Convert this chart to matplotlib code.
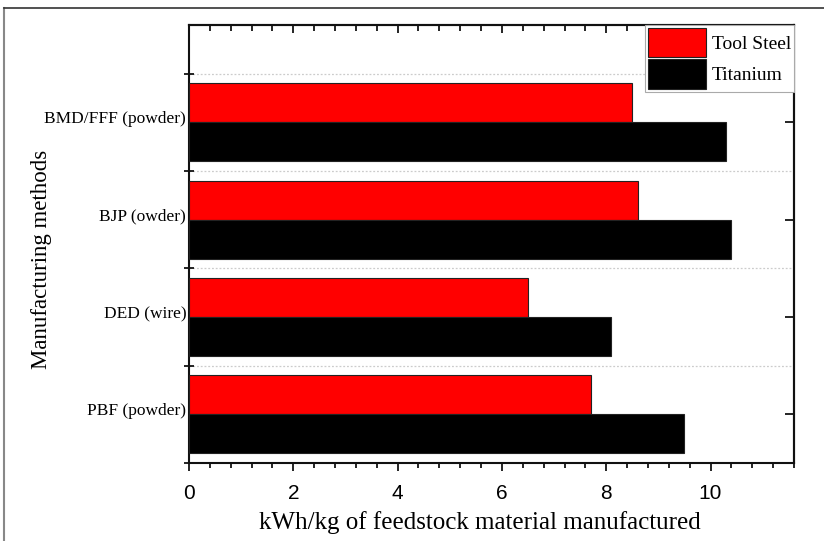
import matplotlib
matplotlib.use("Agg")
import matplotlib.pyplot as plt
import numpy as np
from matplotlib.ticker import MultipleLocator
from matplotlib.lines import Line2D

# Energy demand per kg of feedstock, by manufacturing route
methods = ["PBF (powder)", "DED (wire)", "BJP (owder)", "BMD/FFF (powder)"]
tool_steel = [7.7, 6.5, 8.6, 8.5]
titanium = [9.5, 8.1, 10.4, 10.3]
series_names = ["Tool Steel", "Titanium"]
series_colors = ["#ff0000", "#000000"]
x_ticks = [0, 2, 4, 6, 8, 10]

serif = ["Liberation Serif", "DejaVu Serif"]
narrow = ["Liberation Sans Narrow", "Liberation Sans", "DejaVu Sans"]

fig = plt.figure(figsize=(8.24, 5.41), dpi=100)
ax = fig.add_axes([189 / 824, 1 - 463 / 541, (794 - 189) / 824, (463 - 25) / 541])

pos = np.arange(len(methods))
h = 0.4
ax.barh(pos + h / 2, tool_steel, height=h, color=series_colors[0],
        edgecolor="#222222", linewidth=0.8, label=series_names[0], zorder=3)
ax.barh(pos - h / 2, titanium, height=h, color=series_colors[1],
        edgecolor="#222222", linewidth=0.8, label=series_names[1], zorder=3)

ax.set_xlim(0, 11.6)
ax.set_ylim(-0.5, 4.0)

# x axis: ticks outward at the bottom
ax.set_xticks(x_ticks)
ax.set_xticklabels([str(t) for t in x_ticks], family=narrow, fontsize=15)
ax.xaxis.set_minor_locator(MultipleLocator(0.4))
ax.tick_params(axis="x", which="major", direction="out", length=6, width=1.2, pad=9)
ax.tick_params(axis="x", which="minor", direction="out", length=3.5, width=1.2)

# y axis: labels near category centres, ticks at category boundaries
ax.set_yticks(pos + 0.05)
ax.set_yticklabels(methods, family=serif, fontsize=12.5)
ax.tick_params(axis="y", which="major", length=0, pad=2)
ax.set_yticks(np.arange(-0.5, len(methods), 1.0), minor=True)
ax.tick_params(axis="y", which="minor", direction="inout", length=6.5, width=1.2)

# faint dotted separators between groups
for yb in np.arange(0.5, len(methods), 1.0):
    ax.axhline(yb, color="#cccccc", linestyle=(0, (1.5, 1.5)), linewidth=0.9, zorder=1)

# top ticks pointing inward
top = ax.secondary_xaxis("top")
top.set_xticks(x_ticks)
top.xaxis.set_minor_locator(MultipleLocator(0.4))
top.tick_params(axis="x", which="major", direction="in", length=6, width=1.2, labeltop=False)
top.tick_params(axis="x", which="minor", direction="in", length=4, width=1.2)
top.spines["top"].set_linewidth(1.5)

# right ticks pointing inward at category centres
right = ax.secondary_yaxis("right")
right.set_yticks(pos)
right.tick_params(axis="y", which="major", direction="in", length=6.5, width=1.2, labelright=False)
right.spines["right"].set_linewidth(1.5)

for s in ax.spines.values():
    s.set_linewidth(1.5)
    s.set_color("#111111")

ax.set_xlabel("kWh/kg of feedstock material manufactured", family=serif, fontsize=18, va="center")
ax.xaxis.set_label_coords(0.481, -0.135)
ax.set_ylabel("Manufacturing methods", family=serif, fontsize=16.5, va="center")
ax.yaxis.set_label_coords(-0.243, 0.466)

leg = ax.legend(loc="upper right", bbox_to_anchor=(1.0, 1.0), prop={"family": serif, "size": 14},
                handlelength=3.0, handleheight=1.95, handletextpad=0.3, labelspacing=0.1,
                borderpad=0.15, borderaxespad=0.0, fancybox=False, framealpha=1.0)
leg.get_frame().set_edgecolor("#aaaaaa")
leg.get_frame().set_linewidth(0.8)

# page frame lines (left and top)
fig.add_artist(Line2D([4 / 824, 4 / 824], [0, 1 - 8 / 541], color="#888888", linewidth=1.5))
fig.add_artist(Line2D([4 / 824, 1], [1 - 8 / 541, 1 - 8 / 541], color="#333333", linewidth=1.2))

fig.savefig("out.png", dpi=100)
